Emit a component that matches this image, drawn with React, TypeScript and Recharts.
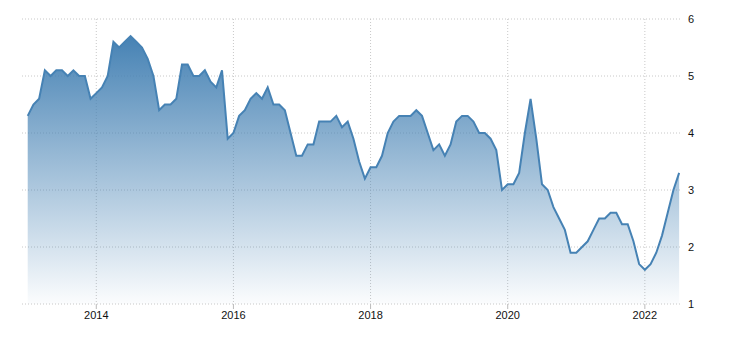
import {
  AreaChart,
  Area,
  XAxis,
  YAxis,
  CartesianGrid,
} from "recharts";

const START_YEAR = 2013;

// monthly readings, one array per year
const rate2013 = [4.3, 4.5, 4.6, 5.1, 5.0, 5.1, 5.1, 5.0, 5.1, 5.0, 5.0, 4.6];
const rate2014 = [4.7, 4.8, 5.0, 5.6, 5.5, 5.6, 5.7, 5.6, 5.5, 5.3, 5.0, 4.4];
const rate2015 = [4.5, 4.5, 4.6, 5.2, 5.2, 5.0, 5.0, 5.1, 4.9, 4.8, 5.1, 3.9];
const rate2016 = [4.0, 4.3, 4.4, 4.6, 4.7, 4.6, 4.8, 4.5, 4.5, 4.4, 4.0, 3.6];
const rate2017 = [3.6, 3.8, 3.8, 4.2, 4.2, 4.2, 4.3, 4.1, 4.2, 3.9, 3.5, 3.2];
const rate2018 = [3.4, 3.4, 3.6, 4.0, 4.2, 4.3, 4.3, 4.3, 4.4, 4.3, 4.0, 3.7];
const rate2019 = [3.8, 3.6, 3.8, 4.2, 4.3, 4.3, 4.2, 4.0, 4.0, 3.9, 3.7, 3.0];
const rate2020 = [3.1, 3.1, 3.3, 4.0, 4.6, 3.9, 3.1, 3.0, 2.7, 2.5, 2.3, 1.9];
const rate2021 = [1.9, 2.0, 2.1, 2.3, 2.5, 2.5, 2.6, 2.6, 2.4, 2.4, 2.1, 1.7];
const rate2022 = [1.6, 1.7, 1.9, 2.2, 2.6, 3.0, 3.3];

const yearLabels = ["2014", "2016", "2018", "2020", "2022"];
const yTicks = [1, 2, 3, 4, 5, 6];

const values = [
  ...rate2013, ...rate2014, ...rate2015, ...rate2016, ...rate2017,
  ...rate2018, ...rate2019, ...rate2020, ...rate2021, ...rate2022,
];

const data = values.map((v, i) => ({ t: i, v }));
const xTicks = yearLabels.map((y) => (Number(y) - START_YEAR) * 12);
const X_DOMAIN: [number, number] = [-1, 114.5];

const FONT = "'Liberation Sans', Arial, sans-serif";
const LINE = "#4682b4";

// vertical grid only at the year ticks, not at the plot edges
// eslint-disable-next-line @typescript-eslint/no-explicit-any
const yearLines = ({ offset }: any) =>
  xTicks.map(
    (t) =>
      offset.left +
      ((t - X_DOMAIN[0]) / (X_DOMAIN[1] - X_DOMAIN[0])) * offset.width
  );

export default function App() {
  return (
    <div style={{ position: "absolute", left: 0, top: 0 }}>
      <AreaChart
        width={730}
        height={340}
        data={data}
        margin={{ top: 19, right: 0, bottom: 6, left: 22 }}
      >
        <defs>
          <linearGradient id="areaFill" x1="0" y1="0" x2="0" y2="1">
            <stop offset="0%" stopColor={LINE} stopOpacity={1} />
            <stop offset="100%" stopColor={LINE} stopOpacity={0.02} />
          </linearGradient>
        </defs>
        <CartesianGrid
          stroke="#c8c8c8"
          strokeDasharray="1 2"
          verticalCoordinatesGenerator={yearLines}
        />
        <XAxis
          dataKey="t"
          type="number"
          domain={X_DOMAIN}
          ticks={xTicks}
          tickFormatter={(t: number) => String(START_YEAR + t / 12)}
          axisLine={false}
          tickLine={{ stroke: "#bbbbbb" }}
          tickSize={5}
          tickMargin={2}
          height={30}
          tick={{ fill: "#111", fontSize: 11, fontFamily: FONT }}
          allowDataOverflow
        />
        <YAxis
          orientation="right"
          domain={[1, 6]}
          ticks={yTicks}
          axisLine={false}
          tickLine={false}
          tickSize={0}
          tickMargin={6}
          width={48}
          tick={{ fill: "#111", fontSize: 11, fontFamily: FONT }}
        />
        <Area
          type="linear"
          dataKey="v"
          stroke={LINE}
          strokeWidth={2}
          fill="url(#areaFill)"
          fillOpacity={1}
          dot={false}
          activeDot={false}
          isAnimationActive={false}
        />
      </AreaChart>
    </div>
  );
}
